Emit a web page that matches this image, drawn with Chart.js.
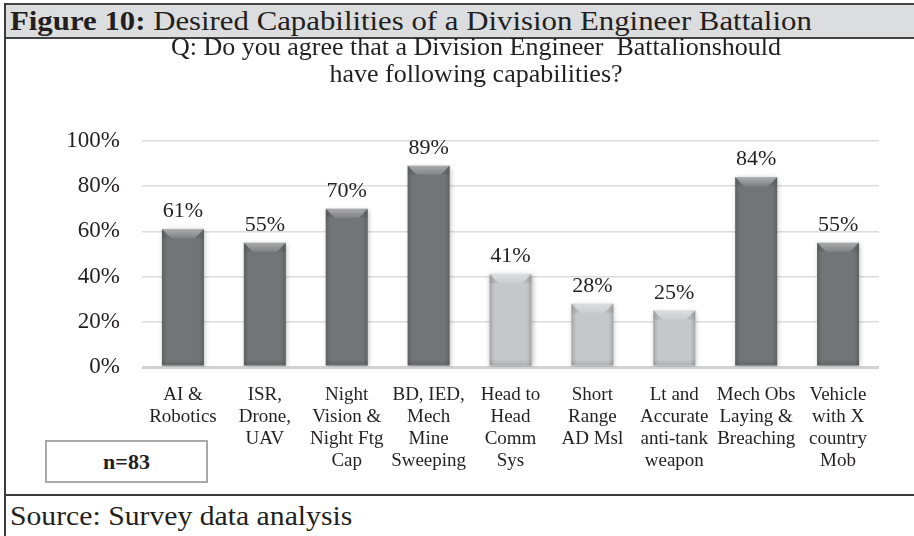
<!DOCTYPE html>
<html>
<head>
<meta charset="utf-8">
<script src="https://cdn.jsdelivr.net/npm/chart.js@4/dist/chart.umd.min.js"></script>
<style>
  html, body { margin: 0; padding: 0; background: #fff; }
  #fig { position: relative; width: 914px; height: 536px; overflow: hidden; background: #fff;
         font-family: "Liberation Serif", "Times New Roman", serif; color: #231f20; }
  #fig .abs { position: absolute; }
  #leftRule { left: 4px; top: 3px; width: 2px; height: 533px; background: #3b3b3b; }
  #capBar { left: 4px; top: 3px; width: 910px; height: 36px; box-sizing: border-box;
            background: #dcdddf; border-top: 2px solid #444; border-bottom: 2px solid #444; }
  #caption { left: 10px; top: 3px; height: 36px; line-height: 36px; font-size: 28px; white-space: nowrap;
             transform: scaleX(1.1); transform-origin: left center; }
  #baseRule { left: 4px; top: 494px; width: 910px; height: 2px; background: #3b3b3b; }
  #source { left: 10px; top: 498px; height: 36px; line-height: 36px; font-size: 27px; white-space: nowrap;
            transform: scaleX(1.1); transform-origin: left center; }
  #nBox { left: 45px; top: 440px; width: 163px; height: 43px; box-sizing: border-box;
          border: 2px solid #a9a9a9; text-align: center; line-height: 40px; font-size: 22px; font-weight: bold; }
  #chartCanvas { position: absolute; left: 0; top: 0; z-index: 2; pointer-events: none; }
</style>
</head>
<body>
<div id="fig">
  <div id="capBar" class="abs"></div>
  <div id="leftRule" class="abs"></div>
  <div id="caption" class="abs"><b>Figure 10:</b> Desired Capabilities of a Division Engineer Battalion</div>
  <div id="nBox" class="abs">n=83</div>
  <div id="baseRule" class="abs"></div>
  <div id="source" class="abs">Source: Survey data analysis</div>
  <canvas id="chartCanvas" width="914" height="536"></canvas>
</div>
<script>
// Survey question shown above the bars
const question = [
  'Q: Do you agree that a Division Engineer  Battalionshould',
  'have following capabilities?'
];

// Capabilities (multi-line axis labels)
const capabilities = [
  ['AI &', 'Robotics'],
  ['ISR,', 'Drone,', 'UAV'],
  ['Night', 'Vision &', 'Night Ftg', 'Cap'],
  ['BD, IED,', 'Mech', 'Mine', 'Sweeping'],
  ['Head to', 'Head', 'Comm', 'Sys'],
  ['Short', 'Range', 'AD Msl'],
  ['Lt and', 'Accurate', 'anti-tank', 'weapon'],
  ['Mech Obs', 'Laying &', 'Breaching'],
  ['Vehicle', 'with X', 'country', 'Mob']
];

// Share of respondents who agree (%)
const agreePct = [61, 55, 70, 89, 41, 28, 25, 84, 55];

// Y axis ticks (%)
const yTicks = [0, 20, 40, 60, 80, 100];

const SERIF = '"Liberation Serif", "Times New Roman", serif';
const INK = '#231f20';
const DARK_BAR = '#737477';
const LIGHT_BAR = '#c6c7c9';

// Majority-agreed capabilities are drawn dark, the rest light
function barColor(ctx) {
  return ctx.raw >= 50 ? DARK_BAR : LIGHT_BAR;
}

// Two-line question centred above the plot
const questionTitle = {
  id: 'questionTitle',
  afterDraw(chart) {
    const ctx = chart.ctx;
    ctx.save();
    ctx.font = '26px ' + SERIF;
    ctx.fillStyle = INK;
    ctx.textAlign = 'center';
    ctx.textBaseline = 'middle';
    question.forEach((line, i) => ctx.fillText(line, 476, 48 + i * 27));
    ctx.restore();
  }
};

// Soft shadow under the bars plus a bevelled top and shaded sides
const bevelBars = {
  id: 'bevelBars',
  beforeDatasetsDraw(chart) {
    const ctx = chart.ctx;
    ctx.save();
    ctx.shadowColor = 'rgba(0,0,0,0.28)';
    ctx.shadowBlur = 5;
    ctx.shadowOffsetX = 1;
    ctx.shadowOffsetY = 1;
  },
  afterDatasetsDraw(chart) {
    const ctx = chart.ctx;
    ctx.restore();
    const meta = chart.getDatasetMeta(0);
    meta.data.forEach((el) => {
      const p = el.getProps(['x', 'y', 'base', 'width'], true);
      const l = p.x - p.width / 2, r = p.x + p.width / 2, t = p.y, b = p.base;
      const bev = Math.min(9, (b - t) / 2);
      ctx.save();
      let g = ctx.createLinearGradient(l, 0, l + 5, 0);
      g.addColorStop(0, 'rgba(0,0,0,0.16)');
      g.addColorStop(1, 'rgba(0,0,0,0)');
      ctx.fillStyle = g;
      ctx.fillRect(l, t, 5, b - t);
      g = ctx.createLinearGradient(r, 0, r - 5, 0);
      g.addColorStop(0, 'rgba(0,0,0,0.16)');
      g.addColorStop(1, 'rgba(0,0,0,0)');
      ctx.fillStyle = g;
      ctx.fillRect(r - 5, t, 5, b - t);
      g = ctx.createLinearGradient(0, b, 0, b - 6);
      g.addColorStop(0, 'rgba(0,0,0,0.12)');
      g.addColorStop(1, 'rgba(0,0,0,0)');
      ctx.fillStyle = g;
      ctx.fillRect(l, b - 6, r - l, 6);
      ctx.beginPath();
      ctx.moveTo(l, t);
      ctx.lineTo(r, t);
      ctx.lineTo(r - bev, t + bev);
      ctx.lineTo(l + bev, t + bev);
      ctx.closePath();
      g = ctx.createLinearGradient(0, t, 0, t + bev);
      g.addColorStop(0, 'rgba(255,255,255,0.40)');
      g.addColorStop(1, 'rgba(255,255,255,0.10)');
      ctx.fillStyle = g;
      ctx.fill();
      ctx.fillStyle = 'rgba(0,0,0,0.08)';
      ctx.beginPath();
      ctx.moveTo(l, t); ctx.lineTo(l + bev, t + bev); ctx.lineTo(l, t + bev); ctx.closePath(); ctx.fill();
      ctx.beginPath();
      ctx.moveTo(r, t); ctx.lineTo(r - bev, t + bev); ctx.lineTo(r, t + bev); ctx.closePath(); ctx.fill();
      ctx.restore();
    });
  }
};

// Percentage printed above each bar
const valueLabels = {
  id: 'valueLabels',
  afterDatasetsDraw(chart) {
    const ctx = chart.ctx;
    const ds = chart.data.datasets[0];
    const meta = chart.getDatasetMeta(0);
    ctx.save();
    ctx.font = '22px ' + SERIF;
    ctx.fillStyle = INK;
    ctx.textAlign = 'center';
    ctx.textBaseline = 'alphabetic';
    meta.data.forEach((el, i) => {
      ctx.fillText(ds.data[i] + '%', el.x, el.y - 12);
    });
    ctx.restore();
  }
};

new Chart(document.getElementById('chartCanvas'), {
  type: 'bar',
  data: {
    labels: capabilities,
    datasets: [{
      data: agreePct,
      backgroundColor: barColor,
      borderWidth: 0,
      barPercentage: 0.513,
      categoryPercentage: 1.0
    }]
  },
  options: {
    responsive: false,
    devicePixelRatio: 1,
    animation: false,
    layout: { padding: { left: 0, right: 35, top: 141, bottom: 0 } },
    plugins: {
      legend: { display: false },
      tooltip: { enabled: false },
      title: { display: false }
    },
    scales: {
      x: {
        grid: { display: false },
        border: { display: false },
        ticks: {
          color: INK,
          font: { family: SERIF, size: 19, lineHeight: 1.16 },
          padding: 9,
          autoSkip: false,
          maxRotation: 0,
          minRotation: 0
        },
        afterFit(scale) { scale.height = 169; }
      },
      y: {
        min: 0,
        max: 100,
        afterBuildTicks(scale) { scale.ticks = yTicks.map(v => ({ value: v })); },
        border: { display: false },
        grid: {
          color: (c) => c.tick && c.tick.value === 0 ? '#d2d2d2' : '#dcdcdc',
          lineWidth: (c) => c.tick && c.tick.value === 0 ? 3 : 1.5,
          drawTicks: false
        },
        ticks: {
          color: INK,
          font: { family: SERIF, size: 23 },
          padding: 22,
          callback: (v) => v + '%'
        },
        afterFit(scale) { scale.width = 142; }
      }
    }
  },
  plugins: [questionTitle, bevelBars, valueLabels]
});
</script>
</body>
</html>
